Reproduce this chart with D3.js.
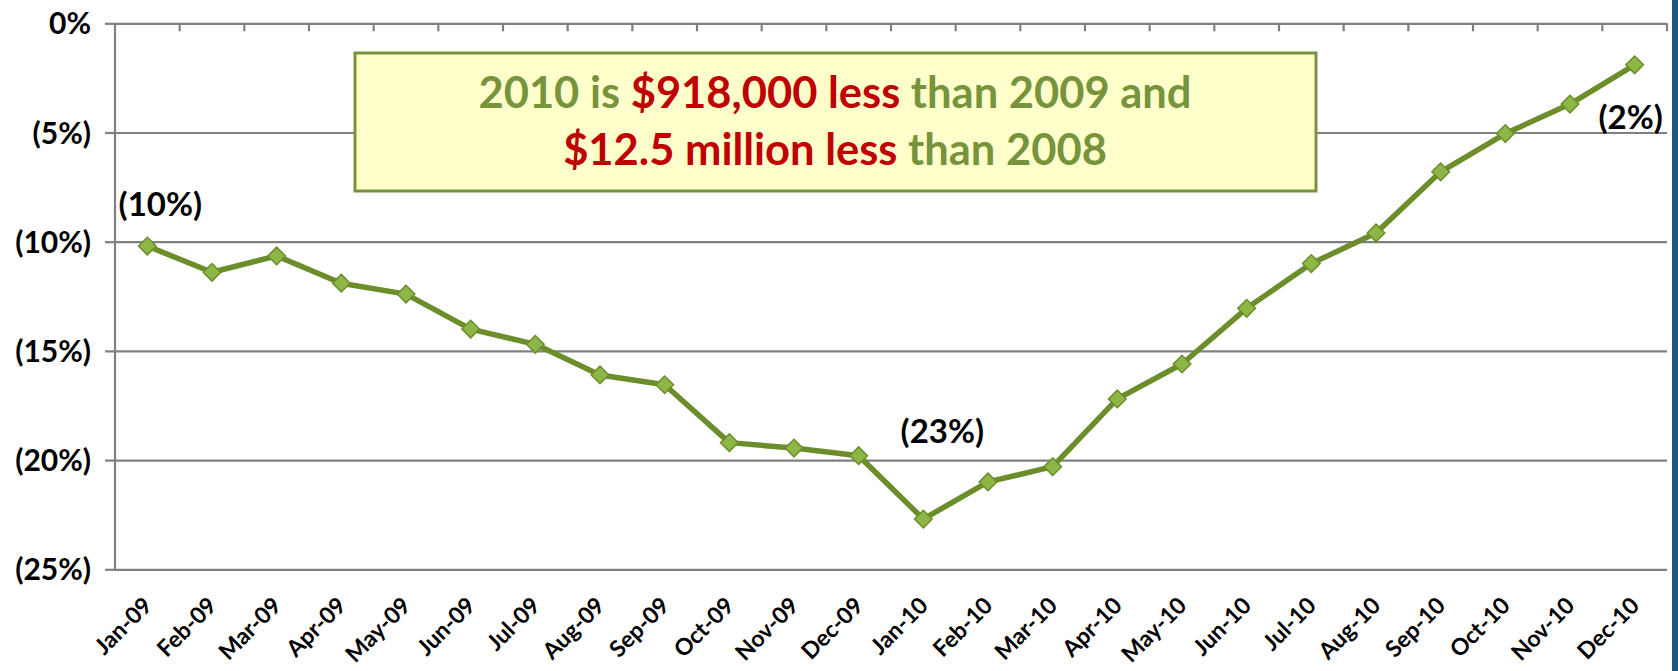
<!DOCTYPE html>
<html>
<head>
<meta charset="utf-8">
<script src="https://cdn.jsdelivr.net/npm/d3@7"></script>
<style>
  html, body { margin: 0; padding: 0; background: #ffffff; }
  svg { display: block; font-family: Lato, "Open Sans", sans-serif; font-weight: 700; }
</style>
</head>
<body>
<svg id="chart" width="1678" height="671"></svg>
<script>
// ---- data ----
const months = ["Jan-09","Feb-09","Mar-09","Apr-09","May-09","Jun-09","Jul-09","Aug-09","Sep-09","Oct-09","Nov-09","Dec-09",
                "Jan-10","Feb-10","Mar-10","Apr-10","May-10","Jun-10","Jul-10","Aug-10","Sep-10","Oct-10","Nov-10","Dec-10"];
const changePct = [-10.2,-11.4,-10.65,-11.9,-12.4,-14.0,-14.7,-16.1,-16.55,-19.2,-19.45,-19.8,
                   -22.7,-21.0,-20.3,-17.2,-15.6,-13.05,-11.0,-9.6,-6.8,-5.05,-3.7,-1.9];
const yTicks = [0,-5,-10,-15,-20,-25];
const yTickLabels = ["0%","(5%)","(10%)","(15%)","(20%)","(25%)"];
const callouts = [ {month:"Jan-09", text:"(10%)"}, {month:"Jan-10", text:"(23%)"}, {month:"Dec-10", text:"(2%)"} ];
const noteLine1 = [ {t:"2010 is ", red:false}, {t:"$918,000 less", red:true}, {t:" than 2009 and", red:false} ];
const noteLine2 = [ {t:"$12.5 million less", red:true}, {t:" than 2008", red:false} ];

// ---- layout ----
const svg = d3.select("#chart");
const X0 = 115, X1 = 1667, Y0 = 23.3, Y1 = 569.3;
const green = "#77933C", red = "#C00000", grid = "#808080";

const x = d3.scaleBand().domain(months).range([X0, X1]).paddingInner(0).paddingOuter(0);
const cx = m => x(m) + x.bandwidth() / 2;
const y = d3.scaleLinear().domain([0, -25]).range([Y0, Y1]);

// right border
svg.append("rect").attr("x", 1672).attr("y", 0).attr("width", 6).attr("height", 671).attr("fill", "#1D5A77");

// gridlines (horizontal) + y ticks via axis
const yAxis = d3.axisLeft(y).tickValues(yTicks).tickSize(-(X1 - X0)).tickFormat((d, i) => yTickLabels[i]);
const gy = svg.append("g").attr("transform", `translate(${X0},0)`).call(yAxis);
gy.select(".domain").remove();
gy.selectAll(".tick line").attr("stroke", grid).attr("stroke-width", 2.2);
gy.selectAll(".tick").append("line").attr("x1", -10).attr("x2", 0).attr("stroke", grid).attr("stroke-width", 2.2);
gy.selectAll(".tick text").attr("x", -24).attr("dy", "0.35em")
  .attr("font-size", 30).attr("font-weight", 700).attr("fill", "#000").attr("font-family", "Lato, sans-serif");

// vertical axis line
svg.append("line").attr("x1", X0).attr("x2", X0).attr("y1", Y0).attr("y2", Y1).attr("stroke", grid).attr("stroke-width", 2.2);

// category tick marks on the 0% line (band boundaries)
const boundaries = months.map(m => x(m) + x.bandwidth());
svg.append("g").selectAll("line").data(boundaries).join("line")
  .attr("x1", d => d).attr("x2", d => d).attr("y1", Y0).attr("y2", Y0 + 8)
  .attr("stroke", grid).attr("stroke-width", 2.2);

// x labels (rotated)
svg.append("g").selectAll("text").data(months).join("text")
  .attr("transform", d => `translate(${cx(d) + 6},607) rotate(-45)`)
  .attr("text-anchor", "end")
  .attr("font-size", 23).attr("fill", "#000")
  .text(d => d);

// annotation box
svg.append("rect").attr("x", 355).attr("y", 53).attr("width", 961).attr("height", 138)
  .attr("fill", "#FFFFCC").attr("stroke", green).attr("stroke-width", 3);
function noteLine(parts, yy, size) {
  const t = svg.append("text").attr("x", 835).attr("y", yy).attr("text-anchor", "middle").attr("font-size", size);
  parts.forEach(p => t.append("tspan").attr("fill", p.red ? red : green).text(p.t));
  return t;
}
noteLine(noteLine1, 108, 43.5);
noteLine(noteLine2, 165, 43.5);

// line
const line = d3.line().x((d, i) => cx(months[i])).y(d => y(d));
svg.append("path").datum(changePct).attr("d", line)
  .attr("fill", "none").attr("stroke", "#6B8E2A").attr("stroke-width", 5.5).attr("stroke-linejoin", "round");

// diamond markers
const sym = d3.symbol().type(d3.symbolSquare).size(155);
svg.append("g").selectAll("path").data(changePct).join("path")
  .attr("d", sym)
  .attr("transform", (d, i) => `translate(${cx(months[i])},${y(d)}) rotate(45)`)
  .attr("fill", "#8DB647").attr("stroke", "#6B8E2A").attr("stroke-width", 1.5);

// callout labels
const offsets = { "Jan-09": [13, -30], "Jan-10": [19, -76], "Dec-10": [-4, 64] };
svg.append("g").selectAll("text").data(callouts).join("text")
  .attr("x", d => cx(d.month) + offsets[d.month][0])
  .attr("y", d => y(changePct[months.indexOf(d.month)]) + offsets[d.month][1])
  .attr("text-anchor", "middle").attr("font-size", 33).attr("fill", "#000")
  .text(d => d.text);
</script>
</body>
</html>
